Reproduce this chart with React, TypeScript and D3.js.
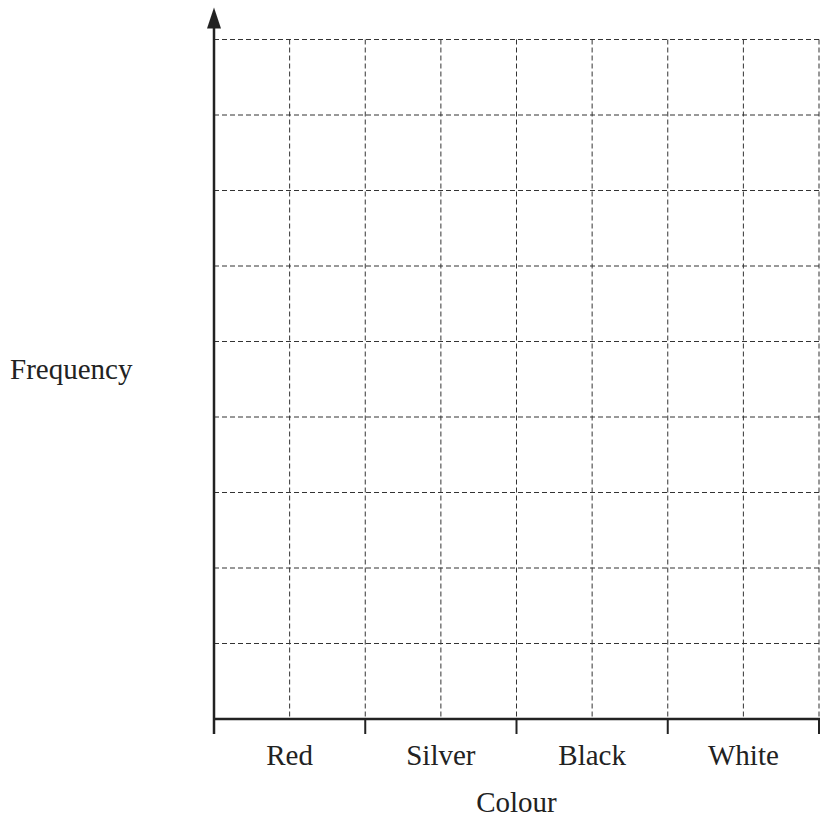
import { useEffect, useRef } from "react"
import * as d3 from "d3"

const categories = ["Red", "Silver", "Black", "White"]
const gridColumns = d3.range(0, 9) // half-category grid steps
const frequencyTicks = d3.range(1, 10)
const xTitle = "Colour"
const yTitle = "Frequency"

export default function App() {
  const svgRef = useRef<SVGSVGElement>(null)

  useEffect(() => {
    document.body.style.margin = "0"
    if (!svgRef.current) return

    const width = 826
    const height = 820
    const margin = { top: 39.5, right: 7, bottom: 101, left: 214 }
    const innerWidth = width - margin.left - margin.right
    const innerHeight = height - margin.top - margin.bottom
    const font = "'Liberation Serif', 'Times New Roman', serif"

    const svg = d3.select(svgRef.current)
    svg.selectAll("*").remove()

    const g = svg.append("g").attr("transform", `translate(${margin.left},${margin.top})`)

    const xBand = d3.scaleBand().domain(categories).range([0, innerWidth])
    const xGrid = d3.scaleLinear().domain([0, 8]).range([0, innerWidth])
    const yScale = d3.scaleLinear().domain([0, 9]).range([innerHeight, 0])

    // dashed grid
    g.append("g")
      .selectAll("line")
      .data(frequencyTicks)
      .enter()
      .append("line")
      .attr("x1", 0)
      .attr("x2", innerWidth)
      .attr("y1", (d) => yScale(d))
      .attr("y2", (d) => yScale(d))
      .attr("stroke", "#333")
      .attr("stroke-width", 1)
      .attr("stroke-dasharray", "5,3")

    g.append("g")
      .selectAll("line")
      .data(gridColumns.slice(1))
      .enter()
      .append("line")
      .attr("x1", (d) => xGrid(d))
      .attr("x2", (d) => xGrid(d))
      .attr("y1", yScale(9))
      .attr("y2", innerHeight)
      .attr("stroke", "#333")
      .attr("stroke-width", 1)
      .attr("stroke-dasharray", "5,3")

    // x axis
    const xAxis = g
      .append("g")
      .attr("transform", `translate(0,${innerHeight})`)
      .call(d3.axisBottom(xBand).tickSize(0).tickPadding(25))
    xAxis.select(".domain").remove()
    xAxis
      .selectAll("text")
      .attr("fill", "#222")
      .attr("font-family", font)
      .attr("font-size", "29px")

    xAxis
      .append("g")
      .selectAll("line")
      .data([0, 2, 4, 6, 8])
      .enter()
      .append("line")
      .attr("x1", (d) => xGrid(d))
      .attr("x2", (d) => xGrid(d))
      .attr("y1", 0)
      .attr("y2", 15)
      .attr("stroke", "#222")
      .attr("stroke-width", 2)

    xAxis
      .append("line")
      .attr("x1", 0)
      .attr("x2", innerWidth + 1)
      .attr("y1", 0)
      .attr("y2", 0)
      .attr("stroke", "#222")
      .attr("stroke-width", 2.5)

    // y axis with arrow
    g.append("line")
      .attr("x1", 0)
      .attr("x2", 0)
      .attr("y1", innerHeight + 15)
      .attr("y2", -15)
      .attr("stroke", "#222")
      .attr("stroke-width", 2.5)

    g.append("path")
      .attr("d", d3.line()([[-7, -11], [0, -32], [7, -11]]) + "Z")
      .attr("fill", "#222")

    // titles
    g.append("text")
      .attr("x", innerWidth / 2)
      .attr("y", innerHeight + 93)
      .attr("text-anchor", "middle")
      .attr("fill", "#222")
      .attr("font-family", font)
      .attr("font-size", "29px")
      .text(xTitle)

    svg
      .append("text")
      .attr("x", 10)
      .attr("y", 379)
      .attr("fill", "#222")
      .attr("font-family", font)
      .attr("font-size", "29px")
      .text(yTitle)
  }, [])

  return <svg ref={svgRef} width={826} height={820} style={{ display: "block" }} />
}
